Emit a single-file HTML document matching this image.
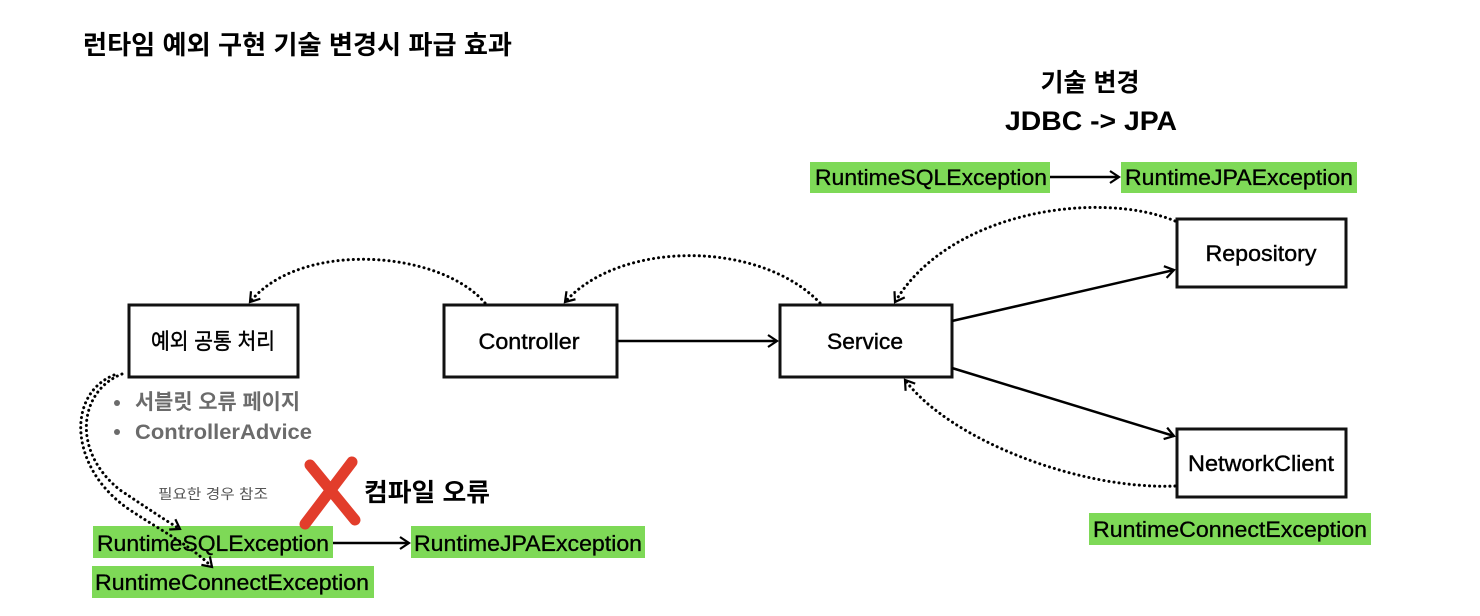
<!DOCTYPE html>
<html><head><meta charset="utf-8"><style>
html,body{margin:0;padding:0;background:#fff;width:1480px;height:616px;overflow:hidden}
svg{display:block}
text{font-family:"Liberation Sans","Noto Sans CJK KR",sans-serif}
</style></head><body>
<svg width="1480" height="616" viewBox="0 0 1480 616" xmlns="http://www.w3.org/2000/svg">
<defs>
<marker id="ah" markerWidth="14" markerHeight="14" refX="11" refY="7" orient="auto" markerUnits="userSpaceOnUse">
<path d="M2,1 L11,7 L2,13" fill="none" stroke="#000" stroke-width="2.2"/>
</marker>
</defs>
<text x="83" y="54" font-size="26" font-weight="bold" fill="#000" textLength="429" lengthAdjust="spacingAndGlyphs">런타임 예외 구현 기술 변경시 파급 효과</text>
<text x="1090" y="91" font-size="25" font-weight="bold" text-anchor="middle">기술 변경</text>
<text x="1091" y="130" font-size="27" font-weight="bold" text-anchor="middle" textLength="172" lengthAdjust="spacingAndGlyphs">JDBC -&gt; JPA</text>

<g stroke="#111" stroke-width="3" fill="#fff">
<rect x="129" y="305" width="169" height="72"/>
<rect x="444" y="305" width="173" height="72"/>
<rect x="780" y="305" width="172" height="72"/>
<rect x="1177" y="219" width="169" height="68"/>
<rect x="1177" y="429" width="169" height="68"/>
</g>
<g font-size="22" text-anchor="middle" fill="#000" stroke="#000" stroke-width="0.4">
<text x="213" y="349" textLength="124" lengthAdjust="spacingAndGlyphs">예외 공통 처리</text>
<text x="529" y="349" textLength="101" lengthAdjust="spacingAndGlyphs">Controller</text>
<text x="865" y="349" textLength="76" lengthAdjust="spacingAndGlyphs">Service</text>
<text x="1261" y="261" textLength="111" lengthAdjust="spacingAndGlyphs">Repository</text>
<text x="1261" y="471" textLength="146" lengthAdjust="spacingAndGlyphs">NetworkClient</text>
</g>

<g fill="#7ed957">
<rect x="810" y="162" width="240" height="31"/>
<rect x="1121" y="162" width="236" height="31"/>
<rect x="1089" y="513" width="282" height="32"/>
<rect x="93" y="526" width="240" height="32"/>
<rect x="411" y="526" width="234" height="32"/>
<rect x="92" y="566" width="282" height="32"/>
</g>
<g font-size="22" fill="#000" stroke="#000" stroke-width="0.3" lengthAdjust="spacingAndGlyphs">
<text x="815" y="185" textLength="232" lengthAdjust="spacingAndGlyphs">RuntimeSQLException</text>
<text x="1125" y="185" textLength="228" lengthAdjust="spacingAndGlyphs">RuntimeJPAException</text>
<text x="1093" y="537" textLength="274" lengthAdjust="spacingAndGlyphs">RuntimeConnectException</text>
<text x="97" y="551" textLength="232" lengthAdjust="spacingAndGlyphs">RuntimeSQLException</text>
<text x="414" y="551" textLength="228" lengthAdjust="spacingAndGlyphs">RuntimeJPAException</text>
<text x="95" y="590" textLength="274" lengthAdjust="spacingAndGlyphs">RuntimeConnectException</text>
</g>

<g fill="#6b6b6b" font-size="21" font-weight="bold">
<circle cx="117" cy="403" r="3"/>
<circle cx="117" cy="432" r="3"/>
<text x="135" y="409" textLength="165" lengthAdjust="spacingAndGlyphs">서블릿 오류 페이지</text>
<text x="135" y="439" textLength="177" lengthAdjust="spacingAndGlyphs">ControllerAdvice</text>
</g>
<text x="158" y="499" font-size="14" fill="#555" textLength="110" lengthAdjust="spacingAndGlyphs">필요한 경우 참조</text>

<path d="M310,465 L355,520 M352,462 L305,524" stroke="#e23d2b" stroke-width="11" stroke-linecap="round"/>
<text x="364" y="501" font-size="25" font-weight="bold" textLength="126" lengthAdjust="spacingAndGlyphs">컴파일 오류</text>

<g stroke="#000" stroke-width="2.5" fill="none" marker-end="url(#ah)">
<line x1="617" y1="341" x2="777" y2="341"/>
<line x1="952" y1="321" x2="1174" y2="270"/>
<line x1="952" y1="368" x2="1174" y2="436"/>
<line x1="333" y1="543" x2="409" y2="543"/>
<line x1="1050" y1="177" x2="1119" y2="177"/>
</g>
<g stroke="#000" stroke-width="3" fill="none" stroke-dasharray="0.1 5" stroke-linecap="round" marker-end="url(#ah)">
<path d="M485,303 C440,250 300,240 250,302"/>
<path d="M820,303 C760,240 620,240 565,302"/>
<path d="M1175,221 C1100,190 950,210 895,302"/>
<path d="M1175,486 C1080,490 950,440 905,380"/>
<path d="M122,374 C80,390 70,450 120,490 C150,510 165,520 180,529"/>
<path d="M114,375 C65,395 70,470 130,510 C160,530 190,545 212,567"/>
</g>
</svg>
</body></html>
